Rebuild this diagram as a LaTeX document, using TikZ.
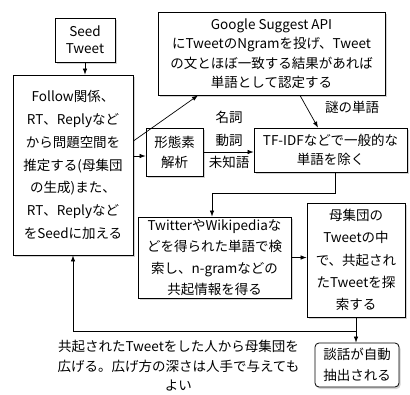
\documentclass[tikz,border=0pt]{standalone}
\usepackage{fontspec}
\setmainfont{Noto Sans CJK JP}
\usetikzlibrary{arrows.meta,shadows}
\begin{document}
\begin{tikzpicture}[x=1pt,y=-1pt,
  box/.style={draw,line width=0.8pt,fill=white,align=center,inner sep=0pt,
    drop shadow={shadow xshift=1.5pt,shadow yshift=-2pt,opacity=0.35}},
  fs/.style={font={\fontsize{13.5}{#1}\selectfont}},
  conn/.style={line width=0.7pt,-{Latex[length=6pt,width=4.5pt]}},
  plain/.style={align=center,inner sep=0pt}]
\useasboundingbox (0,0) rectangle (410,394);
\node[box,fs=17,minimum width=60pt,minimum height=44pt] (seed) at (85,40) {Seed\\Tweet};
\node[box,fs=22.8,minimum width=120pt,minimum height=180pt] (left) at (73,165)
  {Follow関係、\\RT、Replyなど\\から問題空間を\\推定する(母集団\\の生成)また、\\RT、Replyなど\\をSeedに加える};
\node[box,fs=19.5,minimum width=227pt,minimum height=83pt] (google) at (271.5,53.5)
  {Google Suggest API\\にTweetのNgramを投げ、Tweet\\の文とほぼ一致する結果があれば\\単語として認定する};
\node[box,fs=20,minimum width=57pt,minimum height=48pt] (keitaiso) at (174.5,152) {形態素\\解析};
\node[box,fs=19,minimum width=153pt,minimum height=44pt] (tfidf) at (330.5,150) {TF-IDFなどで一般的な\\単語を除く};
\node[box,fs=21.3,minimum width=153pt,minimum height=81pt] (twitter) at (214.5,257.5)
  {TwitterやWikipediaな\\どを得られた単語で検\\索し、n-gramなどの\\共起情報を得る};
\node[box,fs=22.2,minimum width=98pt,minimum height=114pt] (boshu) at (356,260)
  {母集団の\\Tweetの中\\で、共起され\\たTweetを探\\索する};
\node[box,fs=21,rounded corners=4pt,minimum width=84pt,minimum height=44pt] (danwa) at (357,365) {談話が自動\\抽出される};
\node[plain,fs=22.5] (pos) at (229,140) {名詞\\動詞\\未知語};
\node[plain,fs=20] (nazo) at (352,107) {謎の単語};
\node[plain,fs=19.5] (bottom) at (178.5,366) {共起されたTweetをした人から母集団を\\広げる。広げ方の深さは人手で与えても\\よい};
\draw[conn] (seed.south) -- (left.north -| seed.south);
\draw[conn] ([yshift=24pt]left.east) -- ([xshift=-73.5pt]google.south);
\draw[conn] ([yshift=9pt]left.east) -- ([yshift=-4pt]keitaiso.west);
\draw[conn] (keitaiso.east) -- (keitaiso.east -| tfidf.west);
\draw[conn] ([xshift=28.5pt]google.south) -- ([xshift=-12.5pt]tfidf.north);
\draw[conn] ([xshift=4.5pt]tfidf.south) -- ++(0,21) -| ([xshift=-2.5pt]twitter.north);
\draw[conn] (twitter.east) -- (twitter.east -| boshu.west);
\draw[conn] (boshu.south) -- (boshu.south |- danwa.north);
\draw[conn] ([yshift=-14pt]boshu.south) -| (left.south);
\end{tikzpicture}
\end{document}
